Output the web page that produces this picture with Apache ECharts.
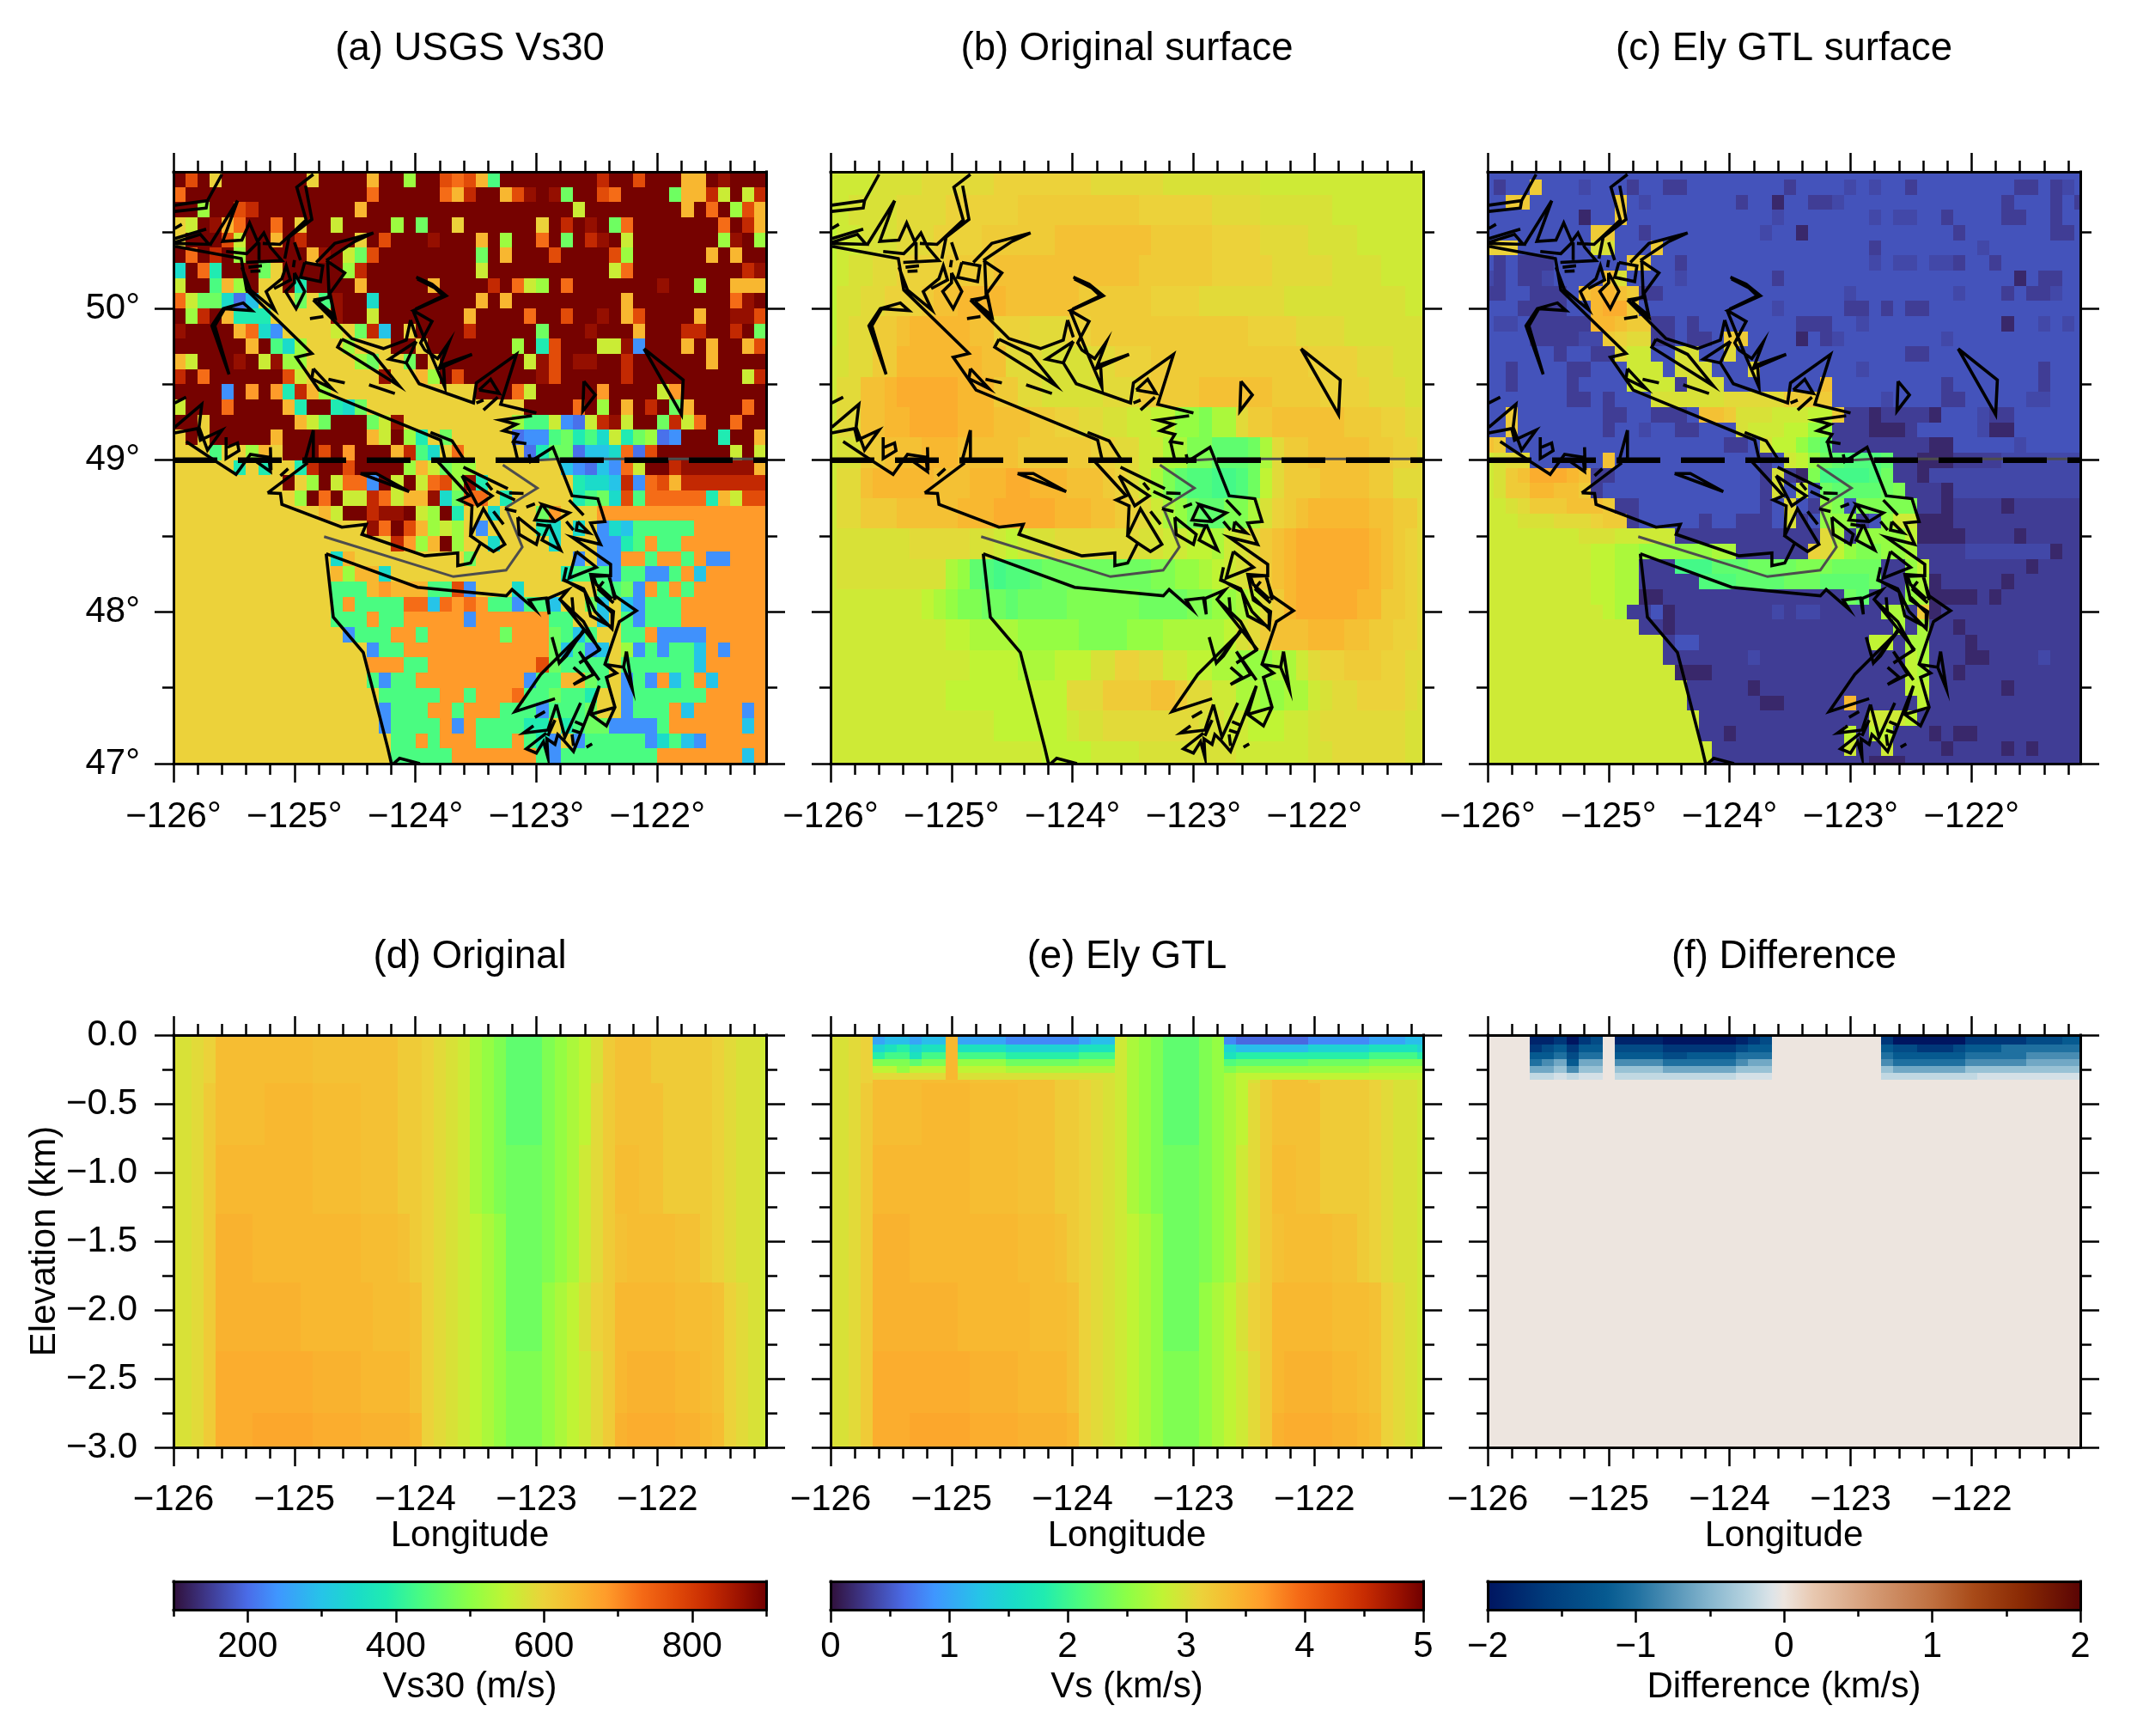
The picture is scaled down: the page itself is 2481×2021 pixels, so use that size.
<!DOCTYPE html>
<html><head><meta charset="utf-8"><style>html,body{margin:0;background:#fff}#c{width:2481px;height:2021px}</style>
<script src="https://cdn.jsdelivr.net/npm/echarts@6/dist/echarts.min.js"></script></head>
<body><div id="c"></div><script>
const lonMajor=[-126,-125,-124,-123,-122];
const lonMinor=[-125.8,-125.6,-125.4,-125.2,-124.8,-124.6,-124.4,-124.2,-123.8,-123.6,-123.4,-123.2,-122.8,-122.6,-122.4,-122.2,-121.8,-121.6,-121.4,-121.2];
const latMajor=[47,48,49,50];
const latMinor=[47.5,48.5,49.5,50.5];
const depthMajor=[0,-0.5,-1,-1.5,-2,-2.5,-3];
const depthMinor=[-0.25,-0.75,-1.25,-1.75,-2.25,-2.75];
const titles=['(a) USGS Vs30','(b) Original surface','(c) Ely GTL surface','(d) Original','(e) Ely GTL','(f) Difference'];

/* Panel (a): Vs30 class read per cell, 49 x 39, top row first, run-length letters */
const vs30Codes={m:895,n:870,r:825,o:775,p:730,f:685,h:645,w:600,l:560,g:515,k:470,e:435,t:385,s:345,c:300,b:235,d:205};
const vs30Rows=[
"momwm7wm4hm2gm2opohem8rm2om3h2mnm3","pm15pm5phrm2honmnkm2opm4kh2rlmlr","m2gm2orm8hm17lm8hmpmgoh","wlmnhpm2pmwm2lm4gmkm2wm6wmrmnmkpm7pmrh",
"wm3olm2hmrm4wmom3nm3hmgm2pmkmrnmlm7gnmg","mpmrmgm5hnmlkom8kmhm3om4ogm6hmhm2","smptm3kwm5grm9lm10lpm9rn","lm2ehgmw2mtm4hm5hm4rmplgmpm7nm2gm2h3",
"plk2sdcw3kwenm2sm8hmhm9hm8pnm","mgrmht3w5nm2lm7hm4pm2om2nmhom4hm2n2o","nm4hpsbw4lwkrcmwm4rm5km3nm3hm3r2m2rmk","m6hmesgw3gw3m2wm7gmtom3l2nbm3hmhm2ho",
"hlm3nmlng2w4gkw2kmwm7lnomn2m2rm6hm4","rmpm6olw6nw2hgmom6nom5rm9lr","m4bmfmftrhgw12m3plm5fm4lfm7","lm3pm4htm2tskw13m4pmgmhmrmkhm4pm",
"m2wm7hlkm3klnw9geelbdlrnlm2krlpm2pm2","wmwm5hm7hlmgtwkw5dbbektesltkgdbm3tm2h","w3ew2ghwm3omfm3hreswpw5dtk2dc2spdom6lml","w5twtw2trm2om4ghlkg2w7cbdcbplm2rn6h",
"w9mwgmlp2bmlmlpogntw7ts2crbpohr7","w10gmpml2rplh2nskp2wtw5teksoep5thlo2","w12hlm2rn2mlgmtw2sw3kfw3f14","w16npmohglgwbw4tswswbsce5f6",
"w18rfghmgw2sw4sw3b2tefe2f7","w13shw9kw8bwb2f2ef2efb2f3","w13hgh2sw14te3be2b2efcf5","w13e3hfh3e2obw3sw6e2kbfefef6",
"w13efe4p2cpfpfe2be2cw2kcwcbe3f7","w13e3fe2f5bf6e2w2cwebe3f7","w14be3f2ef6kf3kecew2e2fb4f5","w16be2f12kcebcwgbebe2cfbf3",
"w16f3e2f9oke4we6cf5","w16ebe2f9be2h2kewbebfcefcf4","w17e5f2ef3pe2ke2tw2be6f5","w17be3f2ef3e3be3kw2be3fcf4bf",
"w17be4fbfe4t2wtek2b4ef6cf","w18e2fef3e3fetbwbe5bsecbf5","w18e5f7ebe8f7cf"];

/* km/s letter scale shared by (b)-(e) */
const vsCodes={A:.4,B:.6,C:.8,D:1,E:1.2,F:1.45,G:1.65,H:1.85,a:2.05,b:2.13,c:2.22,d:2.32,e:2.42,f:2.55,g:2.68,h:2.8,i:2.9,j:2.98,k:3.05,l:3.13,m:3.2,n:3.3,I:3.35,o:3.4,J:3.45,p:3.5,K:3.55,q:3.6,r:.17,s:.32,t:.39,u:.46};
/* Panel (b): read every second latitude row, 50 columns */
const surfaceRows=[
"i4j4k6l8k6j8i14","i2j4k4l6m10l6k4j6i8","hi2j3k3l4m6n8m5l4k4j4i6","hij2k2l4m4n12m6l5k5j4i4","hj2k2l3mn2o4n6m6l4k7j10i2",
"hjk2m2no5n2l3k3l2m13l4k4j7","ijk2m2o7n2k3j4k2l3m13l4k3j3","ik2n2op5o3m2k2j5k3m5n6m4l4k3j2","ik2n2o2p4o3n3m2l2k2j2i2h2f2eg2km2n6m3l2k2","ij2m2n3o3n2n3m6l2k2i2g2e2c3dgkm2n5m2l2k2",
"ik2no5n3o3p2o3n3mlkigecb2a2bdhkm3n4m2k3","ik2m3n5o3p5o3n2mlkigfdc2e2gjlmno5n2m2k","ij6k5j2ihij2k7j2i2h2gijkmnop6onmlk","ij9gfcbab2cd9e2f2ghijlmnop6onmlk","i8hgfe2d2cd4e6d4e2f2ghkmop5o2m2lk",
"i10h2g4f5e4f3g3g2hjkmn3o3n2m2l2k","i12h4g3h3j2l2k2i2h2g2f3g2ikl2m3l2k2","i10h10k3m4n2mk2i2g2f2g2ijk2l4kj","i14h6ij2k8j2i2h3i2jk7j2","i18h4i4j8i6j2k6j2"];
/* Panel (c): 50 x 40 node cells */
const glRows=[
"u50","usu2mu3tu3su2s2u8su4tutu2su8s2ustu","u2m2u7mutu7su2ru2s2tu13su3sus","u8ru2mu12tu7tut2u2su4s2u2su2","u9m2u2su9tu2ru12su7s2u",
"l3u6j2u3mu17su8tu8","usus3u6m2u2su15tut2ut2su2su7","tsus2tu4nju4tu7su19rus2u2","s2u2s3uno2nms2u15tu8tu3sus2tu2","u3s4u2op2mu11tu5s2usus2u13",
"ut2us5o2nm2s2usu8s3u2tu11ru2tutu","u4s4t2mlk2s2us2um2u4rustu8tu11","u6su2s2ki2u2j2u2ku14s2u13","u2su4s2u3i3uj3u3ku8tu14su3","u2su4su4i4sj3u8nu9su7su3",
"u7s2usu3j6k5m4u4tu4s2u5t2u3","u2mu7s2u2s3un2mj3i3h2ms2rs4ru3ts2u6","u2mu7su2tu2s2u3ji3h2f2s3r3su5tr2u6","nmu18s2ujh2fdcs8r2u5tu5","ijk2u6nu12suihfdcb3cs2r3s4t7",
"ijmnp3ons2u12sjsrea4bds2rt13","ijm2o2n2msu13sjuiudc4des3rt11","i2jkm3n3ms2u10sukusfeue5s2rs4rs6","i3j3k3lm2su5su2s3ujsuf3sufi2r3s11","i8j3i5s12kgsf4hr4s4rs5",
"i9h2g2f6g2s6lkhfe2f2gs4t7rs2","i9h2g2s3a3c3d4e3d4s2fhs8rs4","i9h2g2s5b3c4d3c4ds2fgrs5rs6","i9h2g2r2s15dcs3fgr4srs7","i10hgs2urs8tst2s5g2smrs12",
"i13s2rs18gsgs2rs10","i15su2s14h2sg2s3rs9","i15s7ts12hgs3r2s4ts3","i16r3s16hgs2rs10","i17s5rs12h2s6rs6",
"i17s6r2s5os5hs13","i18s14i3hs14","i18s2rs9hsh2s3rsr2s9","i19s11is2is4rs4rsrs4","i19s13r3s15"];
/* Panels (d),(e): depth bands, 50 columns */
const originalBands=[
"j2klI8n7m2lkjigfec3efghjmn3m5lkj2i",
"j2kmI4o4I4n3m2lkjigfec3efghkmn4m4lkj2i",
"j2kmo8I4n3m2lkjigfed3efgikmI2n2m4lkj2i",
"j2kmJ3o9I3nmlkjihgfd3efgikmnI4n2mlkj2i",
"j2kmJ7o6I3nlkjihgfd3fghjlmo5I3nlkji",
"j2kmp8J4o4nlkjihgfe3fghikmoJ4o2Inlkji",
"j2kmp3K5p4J4olkjihgfe3fghikmJp4J2oIlkji"];
const originalBandEdges=[0,-0.35,-0.8,-1.3,-1.8,-2.3,-2.75,-3];
const gtlRows=[
"j2klDE2DE2oD4C6DE2igfec3efCB6C5D3E2",
"j2klFGHFG2oG4F6G3igfec3efFE6F5G3GF",
"j2klHa2Ga2oa4H6a3igfec3efGH6H5a3aH",
"j2kle3ce2of4d6e3igfec3efbc6d5e5",
"j2klh2fh3oh4g6g3igfec3efef6f5g5",
"j2klk6oj13igfec3efgh6h5h5"];
const gtlRowEdges=[0,-0.07,-0.125,-0.175,-0.225,-0.275,-0.325];
const gtlBandEdges=[-0.325,-0.35,-0.8,-1.3,-1.8,-2.3,-2.75,-3];
/* Panel (f) */
const diffCodes={a:-2,b:-1.85,c:-1.65,d:-1.4,e:-1.2,f:-1,g:-.8,h:-.6,i:-.4,j:-.2,k:-.12,z:0};
const diffRows=[
"z4b2cacdzb4a6bcdz9ca6c5d3e2",
"z4cdece2zd4c6de2z9ed2c3de3f2f3f2",
"z4e2fdf2ze4d2e4f3z9fe6f5g5",
"z4fgheh2zg4f6gh2z9gf6g5h5",
"z4h2igi2zi4h6i3z9ih6i10",
"z4j2kjk2zj4j6k3z9j8k9"];

/* Coastline polylines, flat lon,lat pairs */
const coastlines=[
[-123.993,50.206,-123.863,50.159,-123.745,50.083,-124.017,49.985,-123.863,49.914,-123.957,49.772,-123.922,49.725,-123.816,49.669,-123.721,49.778,-123.804,49.603,-123.532,49.697,-123.768,49.631,-123.757,49.481,-123.863,49.678,-124.017,49.980],
[-123.985,50.195,-123.84,50.135,-123.77,50.083,-124.0,49.995],
[-124.040,49.923,-124.076,49.791,-124.265,49.735,-124.525,49.801,-124.844,50.055,-124.667,49.942,-124.702,50.074,-124.844,50.055],
[-124.868,49.933,-124.761,49.946],[-124.040,49.923,-123.993,49.810],
[-123.993,49.782,-124.217,49.665,-124.076,49.641,-123.993,49.782],
[-124.076,49.641,-123.969,49.503,-123.520,49.377,-123.496,49.509,-123.165,49.697,-123.295,49.368,-123.0,49.311],
[-124.608,49.797,-124.643,49.744,-124.135,49.490,-124.347,49.697,-124.608,49.797],
[-123.437,49.330,-123.319,49.415],[-123.496,49.377,-123.437,49.396],
[-123.473,49.462,-123.378,49.533,-123.307,49.439,-123.473,49.462],
[-123.036,49.292,-123.296,49.264,-123.166,49.236,-123.272,49.194,-123.154,49.170,-123.190,49.123,-123.083,49.108],
[-123.190,49.123,-123.154,49.000],
[-125.990,50.409,-125.440,50.328,-125.395,50.121,-124.856,49.703,-124.986,49.678,-124.797,49.462,-123.792,49.132,-123.757,49.010],
[-123.875,49.183,-123.697,49.127,-123.603,49.010],
[-124.844,49.603,-124.690,49.471,-124.856,49.537,-124.844,49.603],
[-124.719,49.533,-124.584,49.509],[-124.383,49.496,-124.170,49.439],
[-124.844,49.198,-124.915,48.991,-124.844,49.010,-124.844,49.198],
[-125.116,48.897,-125.052,48.944],
[-125.222,48.784,-124.891,48.982],
[-125.222,48.784,-125.116,48.780,-125.104,48.709,-124.608,48.558,-124.407,48.577,-124.442,48.511,-123.922,48.369,-123.650,48.388,-123.650,48.304,-123.544,48.322,-123.461,48.454,-123.355,48.398,-123.261,48.445,-123.438,48.680,-123.544,48.501,-123.461,48.454],
[-124.454,48.912,-124.324,48.912,-124.052,48.793,-124.454,48.912],
[-123.816,48.991,-123.556,48.765,-123.638,48.737,-123.532,48.699,-123.544,48.501],
[-123.615,48.897,-123.366,48.765,-123.485,48.699,-123.615,48.897],
[-123.603,48.953,-123.236,48.812],
[-123.414,48.850,-123.366,48.803],[-123.331,48.793,-123.177,48.737],[-123.225,48.784,-123.106,48.780],[-123.355,48.662,-123.272,48.577],[-123.260,48.680,-123.165,48.662],
[-123.154,48.624,-122.977,48.511,-123.000,48.445,-123.142,48.511,-123.154,48.624],
[-122.953,48.708,-123.012,48.605,-122.847,48.595,-122.729,48.652,-122.953,48.708,-122.847,48.595],
[-123.000,48.577,-122.906,48.567],
[-122.894,48.577,-122.953,48.473,-122.800,48.407,-122.894,48.577],
[-122.752,48.595,-122.693,48.539],[-123.083,48.690,-123.012,48.712],
[-123.060,49.038,-123.048,48.991,-122.863,49.085,-122.705,48.765,-122.492,48.746,-122.433,48.595,-122.551,48.586,-122.469,48.445,-122.705,48.492,-122.386,48.313,-122.386,48.238,-122.528,48.234,-122.504,48.181,-122.374,48.087],
[-122.729,48.737,-122.610,48.637],
[-122.658,48.595,-122.670,48.539,-122.563,48.520,-122.658,48.595],
[-122.670,48.398,-122.504,48.294,-122.729,48.223,-122.670,48.398],
[-122.776,48.215,-122.599,48.134,-122.551,47.974,-122.374,47.899,-122.374,47.993,-122.504,48.097],
[-122.398,48.228,-122.350,48.106,-122.173,48.008,-122.314,47.936,-122.433,47.654,-122.338,47.597,-122.421,47.569,-122.350,47.371,-122.421,47.249,-122.551,47.324,-122.350,47.371],
[-122.433,47.654,-122.279,47.635],
[-124.738,48.383,-123.982,48.162,-123.249,48.106,-123.201,48.147,-123.012,48.016,-123.060,48.078,-122.918,48.091,-122.894,47.984,-122.906,48.087,-122.740,48.144,-122.804,48.083,-122.469,47.748],
[-122.705,48.096,-122.693,47.984],
[-124.738,48.383,-124.679,47.965,-124.431,47.733,-124.230,47.108,-124.198,47.0],
[-124.18,47.0,-124.131,47.035,-123.963,47.0],
[-122.870,47.833,-122.811,47.663,-122.610,47.870,-122.965,47.588,-123.177,47.343,-122.846,47.428],
[-122.610,47.880,-122.752,47.710,-122.811,47.663],
[-123.012,47.305,-122.929,47.343],
[-122.835,47.390,-122.764,47.174,-122.634,47.400],
[-122.835,47.390,-122.905,47.221,-123.106,47.202,-123.024,47.249],
[-122.846,47.287,-122.905,47.183],
[-122.917,47.202,-123.083,47.098,-123.000,47.070,-122.941,47.145,-122.905,47.042,-122.913,47.164,-122.846,47.127,-122.823,47.192,-122.775,47.155,-122.693,47.080,-122.480,47.513,-122.551,47.324],
[-122.705,47.192,-122.693,47.117],[-122.681,47.277,-122.598,47.249],[-122.705,47.221,-122.634,47.202],[-122.586,47.108,-122.539,47.130],
[-122.693,47.635,-122.598,47.569,-122.693,47.522,-122.527,47.588,-122.645,47.739,-122.480,47.550],
[-122.811,48.087,-122.610,47.936,-122.480,47.748,-122.645,47.663],
[-122.255,47.739,-122.279,47.635,-122.208,47.494,-122.255,47.739],
[-122.752,48.294,-122.775,48.209,-122.610,48.153,-122.515,48.002,-122.374,47.889,-122.362,48.002,-122.504,48.077,-122.551,48.247,-122.397,48.238,-122.350,48.077],
[-122.492,48.153,-122.362,48.059],[-122.445,48.200,-122.492,48.153],
[-125.600,50.883,-125.719,50.710,-125.990,50.680],
[-125.719,50.710,-125.730,50.661,-125.990,50.639],
[-125.990,50.526,-125.931,50.554],[-125.990,50.460,-125.730,50.522],
[-125.990,50.428,-125.707,50.422,-125.778,50.488,-125.990,50.435],
[-125.470,50.710,-125.593,50.441,-125.435,50.450,-125.371,50.563,-125.305,50.441,-125.253,50.497,-125.198,50.403,-125.104,50.315,-125.399,50.303],
[-125.470,50.710,-125.695,50.422],
[-124.844,50.883,-124.981,50.799,-124.903,50.582,-125.120,50.422,-125.262,50.428],
[-124.908,50.808,-124.856,50.586,-125.045,50.469,-125.080,50.328],
[-125.565,50.375,-125.395,50.360,-125.293,50.441],[-125.293,50.318,-125.293,50.435],
[-125.380,50.271,-125.269,50.281],[-125.364,50.243,-125.281,50.247],
[-125.435,50.271,-125.364,50.121,-125.163,49.989,-125.234,50.111,-125.104,50.196,-125.068,50.281,-125.033,50.187,-125.168,50.130],
[-125.00,50.234,-124.915,50.111,-124.986,49.998,-125.073,50.111,-125.00,50.168,-125.00,50.234],
[-125.0,50.318,-125.009,50.271],[-125.0,50.435,-124.950,50.318],
[-124.915,50.303,-124.950,50.205,-124.785,50.177,-124.766,50.281,-124.915,50.303],
[-124.820,50.303,-124.667,50.428,-124.347,50.497,-124.501,50.441,-124.737,50.315],
[-124.737,50.315,-124.584,50.234,-124.714,50.092,-124.726,50.315],
[-124.808,50.045,-124.702,50.083,-124.667,49.951,-124.808,50.045],
[-124.872,49.932,-124.761,49.946],
[-125.541,49.565,-125.683,49.885,-125.589,49.998,-125.423,50.036,-125.352,49.985,-125.577,49.998,-125.659,49.885,-125.541,49.565],
[-125.990,49.377,-125.896,49.415],
[-125.990,49.217,-125.766,49.368,-125.789,49.217,-125.719,49.066,-125.600,49.198,-125.778,49.132,-125.801,49.208,-125.990,49.179],
[-125.896,49.123,-125.648,48.991,-125.483,48.906,-125.364,49.038,-125.211,49.019,-125.199,48.925,-125.317,48.991,-125.459,48.991],
[-125.199,49.085,-125.194,48.934],
[-125.565,49.151,-125.565,49.010,-125.459,49.062,-125.471,49.113,-125.554,49.085],
[-122.11,49.734,-121.786,49.528,-121.80,49.30,-122.11,49.734],
[-122.607,49.52,-122.513,49.43,-122.616,49.323,-122.607,49.52]];
const borderLines=[
[-124.755,48.496,-123.686,48.232,-123.250,48.275,-123.116,48.427,-123.250,48.688,-122.992,48.816,-123.277,48.968],
[-122.992,49.0,-122.81,49.008,-121.1,49.008]];
const parallel49=[[-126,49],[-121.1,49]];

const turboStops=[[0,'#30103a'],[.06,'#3f3a90'],[.125,'#4a6ce8'],[.175,'#3f96ff'],[.25,'#26c4e8'],[.31,'#1adcc8'],[.36,'#20ecb0'],[.42,'#4bfc80'],[.5,'#8cff46'],[.56,'#c0f434'],[.625,'#ecd23a'],[.68,'#f8b830'],[.73,'#ff9c2a'],[.79,'#f56a16'],[.85,'#e04808'],[.9,'#c82c02'],[.96,'#981000'],[1,'#700000']];
const vikStops=[[0,'#001560'],[.1,'#003c7c'],[.2,'#065a90'],[.25,'#1f70a0'],[.375,'#86b6ce'],[.44,'#b8d4e0'],[.48,'#dde4e8'],[.5,'#ede5df'],[.55,'#e8c8b0'],[.65,'#d49a74'],[.75,'#bf7040'],[.82,'#a84a18'],[.9,'#8a2a04'],[1,'#5a0404']];

const FONT='"Liberation Sans",Arial,sans-serif';
const minus=v=>v<0?'\u2212'+Math.abs(v):String(v);
function hex(c){return [1,3,5].map(i=>parseInt(c.substr(i,2),16));}
function ramp(stops,min,max){const s=stops.map(([p,c])=>[p,hex(c)]);return v=>{const t=Math.max(0,Math.min(1,(v-min)/(max-min)));let i=1;while(i<s.length-1&&s[i][0]<t)i++;const [a,ca]=s[i-1],[b,cb]=s[i],f=(t-a)/(b-a);return 'rgb('+ca.map((x,k)=>Math.round(x+(cb[k]-x)*f)).join(',')+')';};}
function decode(row,codes){const out=[];row.replace(/([a-zA-Z])(\d*)/g,(m,l,n)=>{for(let i=0,k=n?+n:1;i<k;i++)out.push(codes[l]);return m;});return out;}

const lonStart=-126,lonEnd=-121.1,latTop=50.9,latBottom=47,cell=0.1;
const clamp=(v,a,b)=>Math.max(a,Math.min(b,v));
const pixelCol=c=>[lonStart+cell*c,lonStart+cell*(c+1)];
const nodeCol=c=>[clamp(lonStart+cell*(c-.5),lonStart,lonEnd),clamp(lonStart+cell*(c+.5),lonStart,lonEnd)];

function a_cells(){const d=[];vs30Rows.forEach((r,i)=>decode(r,vs30Codes).forEach((v,c)=>{const[x0,x1]=pixelCol(c);d.push([x0,x1,latTop-cell*i,latTop-cell*(i+1),v]);}));return d;}
function node_cells(rows,span){const d=[];rows.forEach((r,i)=>decode(r,vsCodes).forEach((v,c)=>{const[x0,x1]=nodeCol(c);const y0=clamp(latTop-cell*(i*span-.5),latBottom,latTop),y1=clamp(latTop-cell*(i*span+span-.5),latBottom,latTop);d.push([x0,x1,y0,y1,v]);}));return d;}
function section_cells(rows,edges,codes){const d=[];rows.forEach((r,i)=>decode(r,codes).forEach((v,c)=>{const[x0,x1]=nodeCol(c);d.push([x0,x1,edges[i],edges[i+1],v]);}));return d;}

const opt={animation:false,textStyle:{fontFamily:FONT},title:[],grid:[],xAxis:[],yAxis:[],series:[]};

function axis(pos,g,min,max,vals,len,line,labelOpt,extra){
  return Object.assign({type:'value',gridIndex:g,position:pos,min,max,z:6,scale:false,silent:true,
    splitLine:{show:false},
    axisLine:{show:line,onZero:false,lineStyle:{color:'#000',width:3,cap:'square'}},
    axisTick:{show:vals.length>0,length:len,customValues:vals,lineStyle:{color:'#000',width:2.5}},
    axisLabel:labelOpt?Object.assign({show:true,color:'#000',fontSize:42,fontFamily:FONT,hideOverlap:false,showMinLabel:true,showMaxLabel:true},labelOpt):{show:false}},extra||{});
}
function axisSet(list,pos,opp,g,min,max,major,minor,labelOpt,extra){
  const first=list.length;
  list.push(axis(pos,g,min,max,major,22,true,labelOpt,extra));
  list.push(axis(opp,g,min,max,major,22,true,null));
  list.push(axis(pos,g,min,max,minor,13,false,null));
  list.push(axis(opp,g,min,max,minor,13,false,null));
  return first;
}
function cellSeries(data,colour,xi,yi){
  return {type:'custom',xAxisIndex:xi,yAxisIndex:yi,data,silent:true,z:1,progressive:0,animation:false,clip:true,
    encode:{x:[0,1],y:[2,3]},
    renderItem:(p,api)=>{const a=api.coord([api.value(0),api.value(2)]),b=api.coord([api.value(1),api.value(3)]);
      const x=Math.round(Math.min(a[0],b[0])),y=Math.round(Math.min(a[1],b[1])),x2=Math.round(Math.max(a[0],b[0])),y2=Math.round(Math.max(a[1],b[1]));
      return {type:'rect',shape:{x,y,width:x2-x,height:y2-y},style:{fill:colour(api.value(4))}};}};
}
function lineData(list){const d=[];list.forEach(l=>{for(let i=0;i<l.length;i+=2)d.push([l[i],l[i+1]]);d.push(['-','-']);});return d;}
function lineSeries(data,style,xi,yi,z){return {type:'line',xAxisIndex:xi,yAxisIndex:yi,data,symbol:'none',showSymbol:false,silent:true,connectNulls:false,clip:true,z,animation:false,lineStyle:style};}

const colX=[202,967,1732],W=690;
const turboV=ramp(turboStops,0,5),turboA=ramp(turboStops,100,900),vik=ramp(vikStops,-2,2);

function addTitle(t,x,y){opt.title.push({text:t,left:x,top:y,padding:0,textAlign:'center',textVerticalAlign:'middle',textStyle:{fontSize:45.5,fontWeight:'normal',color:'#000',fontFamily:FONT}});}

/* top row */
[[a_cells(),turboA],[node_cells(surfaceRows,2),turboV],[node_cells(glRows,1),turboV]].forEach(([cells,col],k)=>{
  const g=opt.grid.length;opt.grid.push({left:colX[k],top:200,width:W,height:689,containLabel:false});
  addTitle(titles[k],colX[k]+W/2,57);
  const xi=axisSet(opt.xAxis,'bottom','top',g,lonStart,lonEnd,lonMajor,lonMinor,{customValues:lonMajor,margin:41,formatter:v=>minus(v)+'\u00b0'});
  const yLabel=k===0?{customValues:latMajor,margin:39,formatter:v=>v+'\u00b0'}:null;
  const yi=axisSet(opt.yAxis,'left','right',g,latBottom,latTop,latMajor,latMinor,yLabel);
  opt.series.push(cellSeries(cells,col,xi,yi));
  opt.series.push(lineSeries(lineData(borderLines),{color:'#4d4d4d',width:3,join:'miter'},xi,yi,3));
  opt.series.push(lineSeries(lineData(coastlines),{color:'#000',width:3.6,join:'miter'},xi,yi,4));
  opt.series.push(lineSeries(parallel49,{color:'#000',width:6.5,type:[51,24],cap:'butt'},xi,yi,5));
});

/* bottom row */
const orig=section_cells(originalBands,originalBandEdges,vsCodes);
const gtl=section_cells(gtlRows,gtlRowEdges,vsCodes).concat(section_cells(originalBands,gtlBandEdges,vsCodes));
const diff=section_cells(diffRows,gtlRowEdges,diffCodes).concat(section_cells(["z50"],[-0.325,-3],diffCodes));
[[orig,turboV],[gtl,turboV],[diff,vik]].forEach(([cells,col],k)=>{
  const g=opt.grid.length;opt.grid.push({left:colX[k],top:1205,width:W,height:480,containLabel:false});
  addTitle(titles[k+3],colX[k]+W/2,1114);
  const xi=axisSet(opt.xAxis,'bottom','top',g,lonStart,lonEnd,lonMajor,lonMinor,{customValues:lonMajor,margin:40,formatter:minus},
    {name:'Longitude',nameLocation:'middle',nameGap:82,nameTextStyle:{fontSize:42,color:'#000',fontFamily:FONT}});
  const yLabel=k===0?{customValues:depthMajor,margin:42,formatter:v=>(v<0?'\u2212':'')+Math.abs(v).toFixed(1)}:null;
  const yExtra=k===0?{name:'Elevation (km)',nameLocation:'middle',nameGap:128,nameRotate:90,nameTextStyle:{fontSize:42,color:'#000',fontFamily:FONT}}:{};
  const yi=axisSet(opt.yAxis,'left','right',g,-3,0,depthMajor,depthMinor,yLabel,yExtra);
  opt.series.push(cellSeries(cells,col,xi,yi));
});

/* colour bars */
const barDefs=[
 {min:100,max:900,major:[200,400,600,800],minor:[100,300,500,700,900],name:'Vs30 (m/s)',stops:turboStops},
 {min:0,max:5,major:[0,1,2,3,4,5],minor:[.5,1.5,2.5,3.5,4.5],name:'Vs (km/s)',stops:turboStops},
 {min:-2,max:2,major:[-2,-1,0,1,2],minor:[-1.5,-.5,.5,1.5],name:'Difference (km/s)',stops:vikStops}];
barDefs.forEach((b,k)=>{
  const g=opt.grid.length;opt.grid.push({left:colX[k],top:1841,width:W,height:33,containLabel:false});
  const xi=opt.xAxis.length;
  opt.xAxis.push(Object.assign(axis('bottom',g,b.min,b.max,b.major,15,true,{customValues:b.major,margin:22,formatter:minus}),{name:b.name,nameLocation:'middle',nameGap:69,nameTextStyle:{fontSize:42,color:'#000',fontFamily:FONT}}));
  opt.xAxis.push(axis('top',g,b.min,b.max,[],0,true,null));
  opt.xAxis.push(axis('bottom',g,b.min,b.max,b.minor,8,false,null));
  const yi=opt.yAxis.length;
  opt.yAxis.push(axis('left',g,0,1,[],0,true,null));
  opt.yAxis.push(axis('right',g,0,1,[],0,true,null));
  opt.series.push({type:'custom',xAxisIndex:xi,yAxisIndex:yi,data:[[b.min,b.max,0,1]],silent:true,z:1,animation:false,encode:{x:[0,1],y:[2,3]},
    renderItem:(p,api)=>{const s=api.coord([api.value(0),api.value(2)]),e=api.coord([api.value(1),api.value(3)]);
      return {type:'rect',shape:{x:s[0],y:e[1],width:e[0]-s[0],height:s[1]-e[1]},style:{fill:new echarts.graphic.LinearGradient(0,0,1,0,b.stops.map(([o,c])=>({offset:o,color:c})))}};}});
});

const chart=echarts.init(document.getElementById('c'),null,{renderer:'canvas',width:2481,height:2021,devicePixelRatio:1});
chart.setOption(opt);
</script></body></html>
